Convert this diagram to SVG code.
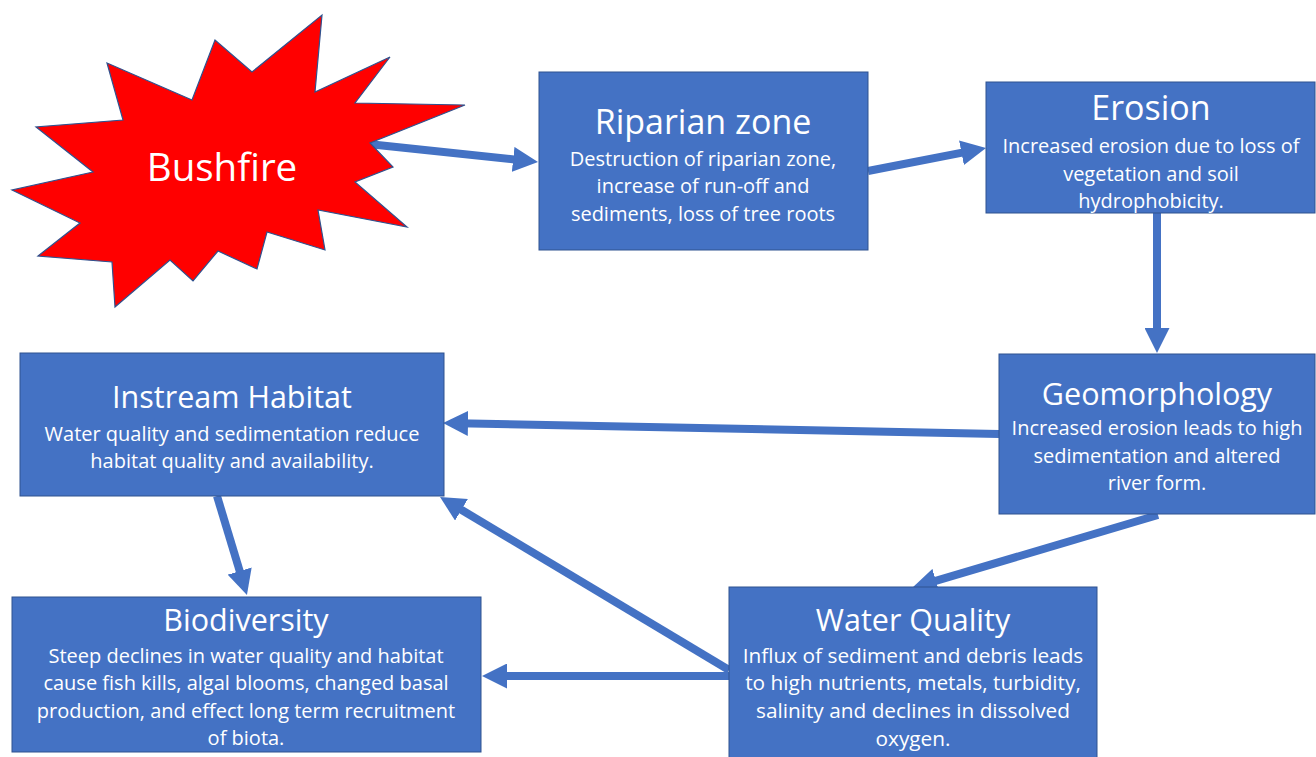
<svg xmlns="http://www.w3.org/2000/svg" width="1316" height="757" viewBox="0 0 1316 757">
<style>
.box{fill:#4472C4;stroke:#2F528F;stroke-width:1}
.t{font-family:"Open Sans","Noto Sans",sans-serif;fill:#FFFFFF;text-anchor:middle}
.title{font-size:30.5px}
.title-l{font-size:34px}
.body{font-size:20px}
.body-l{font-size:20.8px}
.fire{font-size:38.5px}
.conn{stroke:#4472C4;stroke-width:8;fill:none;marker-end:url(#ah)}
</style>
<defs>
<marker id="ah" viewBox="0 0 25 25" markerWidth="25" markerHeight="25" markerUnits="userSpaceOnUse" refX="10" refY="12.5" orient="auto">
<path d="M0,0 L25,12.5 L0,25 Z" fill="#4472C4"/>
</marker>
</defs>
<rect width="1316" height="757" fill="#FFFFFF"/>
<g id="connectors">
<line class="conn" x1="368" y1="144" x2="523.1" y2="160.4"/>
<line class="conn" x1="868" y1="171" x2="971.3" y2="150.9"/>
<line class="conn" x1="1157" y1="213" x2="1157" y2="338"/>
<line class="conn" x1="999" y1="434" x2="458" y2="423.3"/>
<line class="conn" x1="1158" y1="515" x2="926.4" y2="583.7"/>
<line class="conn" x1="729" y1="670" x2="452.9" y2="504.7"/>
<line class="conn" x1="729" y1="676" x2="497" y2="676"/>
<line class="conn" x1="217" y1="496" x2="242.6" y2="580.6"/>
</g>
<g id="bushfire">
<polygon points="322,15 315,92 390,57 355,103 465,105 370,143 393,167 355,182 407,227 318,210 325,250 267,232 257,269 218,251 193,281 170,260 115,307 112,262 38,256 80,223 12,190 93,172 36,127 123,120 107,63 192,100 215,40 252,72" fill="#FF0000" stroke="#2F528F" stroke-width="1.2" stroke-linejoin="miter"/>
<text class="t fire" x="222" y="181">Bushfire</text>
</g>
<g id="riparian">
<rect class="box" x="539" y="72" width="329" height="178"/>
<text class="t title-l" x="703" y="134">Riparian zone</text>
<text class="t body" x="703" y="166">Destruction of riparian zone,</text>
<text class="t body" x="703" y="193">increase of run-off and</text>
<text class="t body" x="703" y="221">sediments, loss of tree roots</text>
</g>
<g id="erosion">
<rect class="box" x="986" y="82" width="329" height="131"/>
<text class="t title-l" x="1151" y="120">Erosion</text>
<text class="t body" x="1151" y="153">Increased erosion due to loss of</text>
<text class="t body" x="1151" y="181">vegetation and soil</text>
<text class="t body" x="1151" y="208">hydrophobicity.</text>
</g>
<g id="geomorphology">
<rect class="box" x="999" y="354" width="316" height="160"/>
<text class="t title" x="1157" y="405">Geomorphology</text>
<text class="t body" x="1157" y="435">Increased erosion leads to high</text>
<text class="t body" x="1157" y="463">sedimentation and altered</text>
<text class="t body" x="1157" y="490">river form.</text>
</g>
<g id="instream-habitat">
<rect class="box" x="20" y="353" width="424" height="143"/>
<text class="t title" x="232" y="408">Instream Habitat</text>
<text class="t body" x="232" y="441">Water quality and sedimentation reduce</text>
<text class="t body" x="232" y="468">habitat quality and availability.</text>
</g>
<g id="biodiversity">
<rect class="box" x="12" y="597" width="469" height="155"/>
<text class="t title" x="246" y="631">Biodiversity</text>
<text class="t body" x="246" y="663">Steep declines in water quality and habitat</text>
<text class="t body" x="246" y="690">cause fish kills, algal blooms, changed basal</text>
<text class="t body" x="246" y="718">production, and effect long term recruitment</text>
<text class="t body" x="246" y="745">of biota.</text>
</g>
<g id="water-quality">
<rect class="box" x="729" y="587" width="368" height="175"/>
<text class="t title" x="913" y="631">Water Quality</text>
<text class="t body-l" x="913" y="663">Influx of sediment and debris leads</text>
<text class="t body-l" x="913" y="690">to high nutrients, metals, turbidity,</text>
<text class="t body-l" x="913" y="718">salinity and declines in dissolved</text>
<text class="t body-l" x="913" y="746">oxygen.</text>
</g>
</svg>
